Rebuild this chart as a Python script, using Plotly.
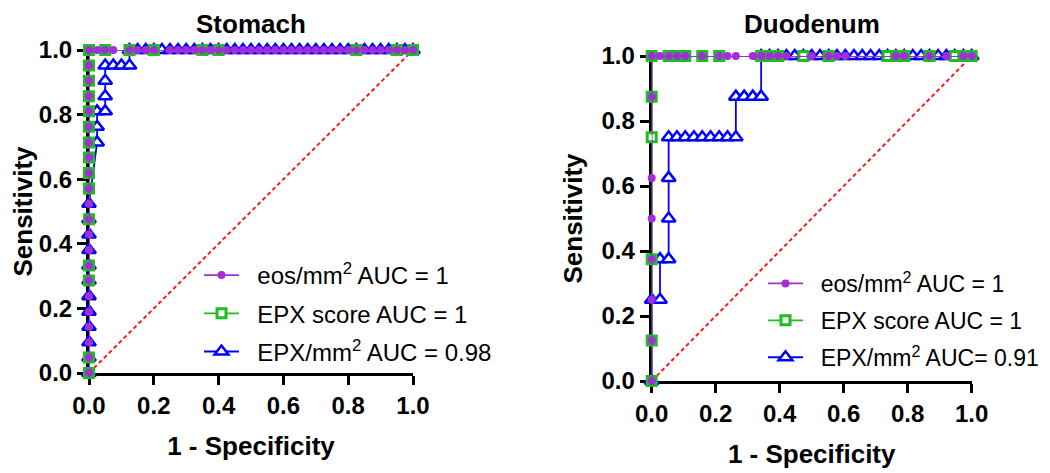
import plotly.graph_objects as go

# ---------------- Stomach (1 - specificity, sensitivity) ----------------
st_eos_x = [0, 0, 0, 0, 0, 0, 0, 0, 0, 0, 0, 0, 0, 0, 0, 0, 0, 0, 0, 0, 0, 0,
            0.025, 0.05, 0.075, 0.125, 0.15, 0.175, 0.2, 0.25, 0.275, 0.3, 0.325, 0.35,
            0.375, 0.4, 0.425, 0.45, 0.475, 0.5, 0.525, 0.55, 0.575, 0.6, 0.625, 0.65,
            0.675, 0.7, 0.725, 0.75, 0.775, 0.8, 0.825, 0.85, 0.875, 0.9, 0.925, 0.95,
            0.975, 1.0]
st_eos_y = [0, 0.048, 0.095, 0.143, 0.190, 0.238, 0.286, 0.333, 0.381, 0.429, 0.476,
            0.524, 0.571, 0.619, 0.667, 0.714, 0.762, 0.810, 0.857, 0.905, 0.952, 1.0,
            1, 1, 1, 1, 1, 1, 1, 1, 1, 1, 1, 1, 1, 1, 1, 1, 1, 1, 1, 1, 1, 1, 1, 1,
            1, 1, 1, 1, 1, 1, 1, 1, 1, 1, 1, 1, 1, 1]

st_score_x = [0, 0, 0, 0, 0, 0, 0, 0, 0, 0, 0, 0, 0, 0, 0,
              0.05, 0.125, 0.2, 0.35, 0.4, 0.825, 0.95, 1.0]
st_score_y = [0, 0.048, 0.286, 0.333, 0.476, 0.571, 0.619, 0.667, 0.714, 0.762,
              0.810, 0.857, 0.905, 0.952, 1.0,
              1, 1, 1, 1, 1, 1, 1, 1]

st_epx_x = [0, 0, 0, 0, 0, 0, 0, 0, 0, 0, 0, 0,
            0.025, 0.025, 0.025, 0.05, 0.05, 0.05, 0.05, 0.075, 0.1, 0.125,
            0.125, 0.15, 0.175, 0.2, 0.225, 0.25, 0.275, 0.3, 0.325, 0.35, 0.375,
            0.4, 0.425, 0.45, 0.475, 0.5, 0.525, 0.55, 0.575, 0.6, 0.625, 0.65,
            0.675, 0.7, 0.725, 0.75, 0.775, 0.8, 0.825, 0.85, 0.875, 0.9, 0.925,
            0.95, 0.975, 1.0]
st_epx_y = [0, 0.048, 0.095, 0.143, 0.190, 0.238, 0.286, 0.333, 0.381, 0.429, 0.476, 0.524,
            0.714, 0.762, 0.810, 0.810, 0.857, 0.905, 0.952, 0.952, 0.952, 0.952,
            1, 1, 1, 1, 1, 1, 1, 1, 1, 1, 1, 1, 1, 1, 1, 1, 1, 1, 1, 1, 1, 1,
            1, 1, 1, 1, 1, 1, 1, 1, 1, 1, 1, 1, 1, 1]

# ---------------- Duodenum ----------------
du_eos_x = [0, 0, 0, 0, 0, 0, 0, 0,
            0.026, 0.053, 0.079, 0.105, 0.158, 0.211, 0.237, 0.263, 0.316, 0.342,
            0.368, 0.395, 0.421, 0.5, 0.553, 0.579, 0.605, 0.763, 0.789, 0.868,
            0.921, 0.974, 1.0]
du_eos_y = [0, 0.125, 0.25, 0.375, 0.5, 0.625, 0.875, 1.0,
            1, 1, 1, 1, 1, 1, 1, 1, 1, 1, 1, 1, 1, 1, 1, 1, 1, 1, 1, 1, 1, 1, 1]

du_score_x = [0, 0, 0, 0, 0, 0,
              0.053, 0.079, 0.105, 0.158, 0.211, 0.342, 0.368, 0.395, 0.474, 0.553,
              0.737, 0.763, 0.789, 0.868, 0.947, 0.974, 1.0]
du_score_y = [0, 0.125, 0.375, 0.75, 0.875, 1.0,
              1, 1, 1, 1, 1, 1, 1, 1, 1, 1, 1, 1, 1, 1, 1, 1, 1]

du_epx_x = [0, 0, 0.026, 0.026, 0.053, 0.053, 0.053, 0.053, 0.079, 0.105, 0.132,
            0.158, 0.184, 0.211, 0.237, 0.263, 0.263, 0.289, 0.316, 0.342, 0.342,
            0.368, 0.395, 0.421, 0.447, 0.474, 0.5, 0.526, 0.553, 0.579, 0.605,
            0.632, 0.658, 0.684, 0.711, 0.737, 0.763, 0.789, 0.816, 0.842, 0.868,
            0.895, 0.921, 0.947, 0.974, 1.0]
du_epx_y = [0, 0.25, 0.25, 0.375, 0.375, 0.5, 0.625, 0.75, 0.75, 0.75, 0.75,
            0.75, 0.75, 0.75, 0.75, 0.75, 0.875, 0.875, 0.875, 0.875, 1.0,
            1, 1, 1, 1, 1, 1, 1, 1, 1, 1, 1, 1, 1, 1, 1, 1, 1, 1, 1, 1, 1, 1, 1, 1, 1]

diag_x = [0, 1]
diag_y = [0, 1]

panel_titles = ["Stomach", "Duodenum"]
st_names = ["eos/mm<sup>2</sup> AUC = 1", "EPX score AUC = 1", "EPX/mm<sup>2</sup> AUC = 0.98"]
du_names = ["eos/mm<sup>2</sup> AUC = 1", "EPX score AUC = 1", "EPX/mm<sup>2</sup> AUC= 0.91"]
tick_vals = [0, 0.2, 0.4, 0.6, 0.8, 1.0]

PURPLE = "#a22ed8"
GREEN = "#1fbe1f"
BLUE = "#0000ff"
FONT = "Arial, Liberation Sans, sans-serif"
GAP = "&nbsp;&nbsp;"  # space between legend symbol and its text

fig = go.Figure()


def add_panel(xa, ya, leg, names, eos, score, epx):
    fig.add_trace(go.Scatter(x=diag_x, y=diag_y, xaxis=xa, yaxis=ya, mode="lines",
                             line=dict(color="#ff1a1a", width=2, dash="4px,3px"),
                             showlegend=False, hoverinfo="skip"))
    fig.add_trace(go.Scatter(x=epx[0], y=epx[1], xaxis=xa, yaxis=ya, mode="lines+markers",
                             name=GAP + names[2], legend=leg, legendgroup=leg + "c", legendrank=3,
                             line=dict(color=BLUE, width=1.8),
                             marker=dict(symbol="triangle-up", size=12, color="white",
                                         line=dict(color=BLUE, width=2.5)),
                             cliponaxis=False))
    fig.add_trace(go.Scatter(x=score[0], y=score[1], xaxis=xa, yaxis=ya, mode="lines+markers",
                             name=GAP + names[1], legend=leg, legendgroup=leg + "b", legendrank=2,
                             line=dict(color=GREEN, width=1.8),
                             marker=dict(symbol="square", size=9, color="white",
                                         line=dict(color=GREEN, width=3)),
                             cliponaxis=False))
    fig.add_trace(go.Scatter(x=eos[0], y=eos[1], xaxis=xa, yaxis=ya, mode="lines+markers",
                             name=GAP + names[0], legend=leg, legendgroup=leg + "a", legendrank=1,
                             line=dict(color=PURPLE, width=1.8),
                             marker=dict(symbol="circle", size=8, color=PURPLE),
                             cliponaxis=False))


add_panel("x", "y", "legend", st_names, (st_eos_x, st_eos_y), (st_score_x, st_score_y),
          (st_epx_x, st_epx_y))
add_panel("x2", "y2", "legend2", du_names, (du_eos_x, du_eos_y), (du_score_x, du_score_y),
          (du_epx_x, du_epx_y))

W, H = 1050, 473
OFF = 8  # the page shows the figure offset by the body margin


def px_x(p):
    return (p - OFF) / W


def px_y(p):
    return 1 - (p - OFF) / H


def xax(dom, anchor):
    return dict(domain=dom, anchor=anchor, range=[0, 1], showline=True, linewidth=3,
                linecolor="black", ticks="outside", ticklen=9, tickwidth=3,
                tickcolor="black", tickvals=tick_vals, tickformat=".1f",
                tickfont=dict(family=FONT, size=24, color="black", weight="bold"),
                showgrid=False, zeroline=False, layer="below traces", automargin=False,
                title=dict(text="1 - Specificity", standoff=20,
                           font=dict(family=FONT, size=26, color="black", weight="bold")))


def yax(dom, anchor, standoff):
    return dict(domain=dom, anchor=anchor, range=[0, 1], showline=True, linewidth=3,
                linecolor="black", ticks="outside", ticklen=9, tickwidth=3,
                tickcolor="black", tickvals=tick_vals, tickformat=".1f",
                tickfont=dict(family=FONT, size=24, color="black", weight="bold"),
                showgrid=False, zeroline=False, layer="below traces", automargin=False,
                title=dict(text="Sensitivity", standoff=standoff,
                           font=dict(family=FONT, size=26, color="black", weight="bold")))


leg_common = dict(xanchor="left", yanchor="top", bgcolor="rgba(0,0,0,0)",
                  traceorder="grouped", tracegroupgap=4, itemwidth=35)

title_font = dict(family=FONT, size=26, color="black", weight="bold")

fig.update_layout(
    width=W, height=H, margin=dict(l=0, r=0, t=0, b=0, autoexpand=False),
    paper_bgcolor="white", plot_bgcolor="white",
    xaxis=xax([px_x(89), px_x(413)], "y"),
    yaxis=yax([px_y(373), px_y(50)], "x", 26),
    xaxis2=xax([px_x(651.7), px_x(971.7)], "y2"),
    yaxis2=yax([px_y(381), px_y(56)], "x2", 12),
    legend=dict(x=px_x(199), y=px_y(253), font=dict(family=FONT, size=24, color="black"),
                **leg_common),
    legend2=dict(x=px_x(763), y=px_y(262), font=dict(family=FONT, size=23, color="black"),
                 **leg_common),
    annotations=[
        dict(text=panel_titles[0], x=px_x(251), y=1, xref="paper", yref="paper",
             showarrow=False, xanchor="center", yanchor="top", borderpad=0,
             font=title_font),
        dict(text=panel_titles[1], x=px_x(812), y=1, xref="paper", yref="paper",
             showarrow=False, xanchor="center", yanchor="top", borderpad=0,
             font=title_font),
    ],
    showlegend=True,
)

fig.write_html("out.html")
